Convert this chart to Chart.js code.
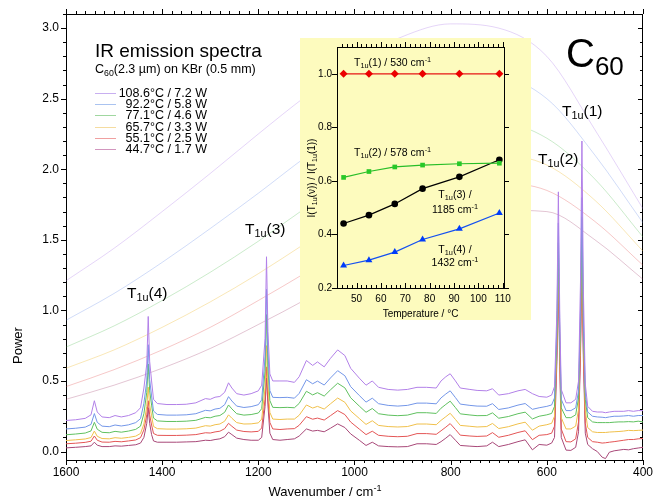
<!DOCTYPE html>
<html>
<head>
<meta charset="utf-8">
<script src="https://cdn.jsdelivr.net/npm/chart.js@4.4.1/dist/chart.umd.min.js"></script>
<style>
html,body{margin:0;padding:0;background:#fff;}
#wrap{position:relative;width:654px;height:504px;overflow:hidden;font-family:"Liberation Sans",Arial,Helvetica,sans-serif;color:#000;}
#wrap canvas{position:absolute;left:0;top:0;}
#inset{position:absolute;left:300px;top:38px;width:231px;height:282px;background:rgb(253,251,190);}
.t{position:absolute;white-space:nowrap;line-height:1;}
.sb{font-size:70%;position:relative;top:0.32em;}
.sp{font-size:70%;position:relative;top:-0.5em;}
</style>
</head>
<body>
<div id="wrap">
  <canvas id="main" width="654" height="504" style="width:654px;height:504px"></canvas>
  <div id="inset"><canvas id="insetChart" width="231" height="282" style="width:231px;height:282px"></canvas></div>

  <div class="t" style="left:95px;top:41px;font-size:19px">IR emission spectra</div>
  <div class="t" style="left:95px;top:63px;font-size:12.5px">C<span class="sb">60</span>(2.3 µm) on KBr (0.5 mm)</div>
  <div id="legend"></div>

  <div class="t" style="left:566px;top:33px;font-size:40px">C<span style="font-size:26px;position:relative;top:8px">60</span></div>
  <div class="t" style="left:562px;top:103px;font-size:15.5px">T<span class="sb">1u</span>(1)</div>
  <div class="t" style="left:538px;top:151px;font-size:15.5px">T<span class="sb">1u</span>(2)</div>
  <div class="t" style="left:245px;top:221px;font-size:15.5px">T<span class="sb">1u</span>(3)</div>
  <div class="t" style="left:127px;top:285px;font-size:15.5px">T<span class="sb">1u</span>(4)</div>

  <div class="t" style="left:11px;top:326px;width:13px;height:38px;font-size:13px;writing-mode:vertical-rl;transform:rotate(180deg)">Power</div>
  <div class="t" style="left:325px;top:492px;font-size:13px;transform:translate(-50%,-50%)">Wavenumber / cm<span class="sp">-1</span></div>

  <div class="t" style="left:354px;top:57px;font-size:10.5px">T<span class="sb">1u</span>(1) / 530 cm<span class="sp">-1</span></div>
  <div class="t" style="left:354px;top:147px;font-size:10.5px">T<span class="sb">1u</span>(2) / 578 cm<span class="sp">-1</span></div>
  <div class="t" style="left:455px;top:189px;font-size:10.5px;transform:translateX(-50%)">T<span class="sb">1u</span>(3) /</div>
  <div class="t" style="left:455px;top:204px;font-size:10.5px;transform:translateX(-50%)">1185 cm<span class="sp">-1</span></div>
  <div class="t" style="left:455px;top:244px;font-size:10.5px;transform:translateX(-50%)">T<span class="sb">1u</span>(4) /</div>
  <div class="t" style="left:455px;top:257px;font-size:10.5px;transform:translateX(-50%)">1432 cm<span class="sp">-1</span></div>
  <div class="t" style="left:312px;top:178px;font-size:10px;transform:translate(-50%,-50%) rotate(-90deg)">I(T<span class="sb">1u</span>(ν)) / I(T<span class="sb">1u</span>(1))</div>
</div>

<script>
// ---------------- data: main spectra ----------------
const wavenumbers = [1600,1580,1560,1548,1541,1535,1525,1510,1498,1485,1470,1455,1445,1438,1432,1429,1426,1422,1418,1410,1390,1370,1350,1330,1310,1300,1290,1280,1270,1262,1255,1245,1230,1215,1200,1193,1186,1183,1180,1176,1170,1155,1140,1125,1115,1100,1087,1077,1063,1050,1035,1020,1008,990,976,963,950,930,910,890,870,850,830,820,810,801,790,780,760,745,725,713,700,680,660,645,630,616,600,590,584,579,576,573,570,560,550,540,534,530,527,524,520,515,505,495,485,478,470,460,450,440,430,420,410,400];

const spec108 = [.220,.225,.235,.260,.360,.280,.245,.240,.255,.245, .255,.275,.310,.450,.620,.957,.640,.500,.370,.340, .333,.333,.335,.345,.375,.370,.385,.390,.420,.487, .450,.410,.400,.410,.430,.470,.800,1.380,.850,.550, .500,.500,.500,.490,.530,.645,.610,.635,.600,.660, .720,.680,.590,.520,.470,.500,.455,.440,.435,.440, .455,.455,.450,.500,.530,.551,.500,.450,.440,.433, .430,.445,.400,.410,.430,.440,.410,.390,.385,.400, .460,1.000,1.840,.950,.440,.345,.345,.370,.500,1.200, 2.200,1.150,.480,.320,.285,.280,.280,.275,.280,.285, .285,.285,.290,.285,.290,.290];
const spec92 = [.160,.165,.173,.192,.269,.207,.180,.176,.188,.181, .189,.205,.233,.342,.500,.757,.510,.394,.287,.263, .258,.258,.260,.268,.292,.288,.301,.306,.332,.389, .358,.322,.312,.318,.332,.366,.670,1.150,.710,.432, .384,.382,.384,.378,.412,.509,.480,.499,.471,.521, .573,.537,.460,.397,.350,.378,.339,.327,.322,.327, .343,.343,.338,.380,.408,.430,.382,.336,.327,.322, .321,.339,.298,.309,.329,.340,.299,.310,.320,.330, .380,.900,1.620,.850,.370,.290,.290,.310,.430,1.000, 1.800,.950,.420,.280,.250,.245,.243,.240,.245,.250, .250,.252,.255,.250,.255,.255];
const spec77 = [.119,.124,.131,.146,.207,.158,.136,.133,.143,.137, .145,.157,.180,.268,.420,.620,.430,.329,.237,.217, .213,.213,.215,.221,.242,.239,.250,.255,.278,.330, .302,.268,.258,.262,.273,.304,.570,.970,.600,.361, .313,.311,.313,.310,.341,.427,.401,.417,.393,.437, .484,.451,.381,.322,.278,.305,.268,.258,.254,.258, .275,.275,.270,.307,.334,.357,.311,.267,.259,.254, .255,.274,.236,.248,.268,.279,.231,.250,.260,.270, .320,.820,1.480,.780,.310,.240,.240,.260,.380,.920, 1.660,.880,.370,.240,.210,.205,.205,.205,.205,.208, .210,.210,.212,.210,.215,.210];
const spec66 = [.078,.083,.089,.099,.145,.108,.092,.090,.098,.094, .100,.109,.128,.195,.320,.456,.330,.253,.178,.162, .159,.159,.161,.166,.183,.180,.190,.195,.215,.260, .236,.205,.195,.196,.203,.230,.450,.750,.470,.277, .230,.227,.230,.230,.257,.330,.308,.320,.301,.338, .379,.349,.288,.234,.192,.218,.185,.177,.174,.177, .195,.195,.190,.221,.247,.271,.227,.185,.179,.174, .177,.199,.163,.176,.196,.208,.151,.180,.190,.200, .250,.770,1.380,.730,.240,.160,.160,.180,.300,.850, 1.550,.820,.290,.170,.140,.135,.135,.135,.138,.140, .142,.145,.150,.148,.150,.152];
const spec55 = [.055,.059,.065,.073,.110,.080,.067,.066,.072,.069, .075,.082,.098,.153,.260,.360,.260,.188,.128,.115, .114,.114,.116,.120,.133,.131,.139,.144,.162,.200, .179,.152,.142,.139,.143,.167,.370,.600,.380,.206, .160,.156,.160,.162,.186,.247,.229,.237,.223,.254, .290,.262,.209,.159,.120,.144,.115,.108,.105,.108, .127,.127,.122,.147,.173,.198,.156,.116,.110,.107, .110,.134,.101,.115,.135,.147,.084,.115,.120,.130, .180,.700,1.260,.660,.160,.070,.068,.090,.210,.750, 1.400,.720,.200,.100,.070,.066,.060,.062,.066,.070, .075,.080,.085,.085,.090,.092];
const spec45 = [.026,.030,.035,.040,.066,.045,.035,.035,.040,.038, .043,.048,.060,.100,.200,.310,.200,.120,.075,.066, .066,.066,.068,.070,.080,.078,.085,.090,.105,.137, .120,.095,.085,.080,.080,.100,.320,.520,.330,.130, .085,.080,.085,.090,.110,.160,.145,.150,.140,.165, .196,.170,.125,.080,.043,.066,.040,.035,.033,.035, .055,.055,.050,.070,.095,.120,.080,.043,.038,.035, .040,.066,.035,.050,.070,.083,.012,.050,.045,.060, .100,.640,1.180,.600,.100,.010,.008,.030,.140,.680, 1.300,.660,.130,.050,.020,.000,-.040,-.050,-.005,.005, .010,.015,.012,.020,.025,.030];

// ---------------- data: blackbody reference curves ----------------
const bbWavenumbers = [1600,1500,1400,1300,1200,1100,1000,900,800,700,600,500,400];
const bb108 = [1.21,1.44,1.70,1.97,2.25,2.52,2.76,2.94,3.03,3.00,2.80,2.28,1.72];
const bb92  = [0.93,1.12,1.34,1.58,1.83,2.09,2.32,2.51,2.63,2.65,2.50,2.10,1.62];
const bb77  = [0.74,0.89,1.07,1.27,1.49,1.73,1.95,2.14,2.28,2.33,2.22,1.93,1.52];
const bb66  = [0.59,0.72,0.88,1.06,1.26,1.48,1.70,1.89,2.03,2.10,2.03,1.78,1.42];
const bb55  = [0.46,0.58,0.72,0.88,1.07,1.27,1.48,1.66,1.82,1.90,1.85,1.63,1.32];
const bb45  = [0.37,0.47,0.59,0.73,0.90,1.08,1.28,1.46,1.61,1.71,1.70,1.50,1.22];

const seriesLabels = ['108.6°C / 7.2 W','92.2°C / 5.8 W','77.1°C / 4.6 W','65.7°C / 3.3 W','55.1°C / 2.5 W','44.7°C / 1.7 W'];
const xTickValues = [1600,1400,1200,1000,800,600,400];
const yTickValues = [0.0,0.5,1.0,1.5,2.0,2.5,3.0];

// ---------------- data: inset ----------------
const insetTemps = [44.7,55.1,65.7,77.1,92.2,108.6];
const ratioT1 = [1.0,1.0,1.0,1.0,1.0,1.0];
const ratioT2 = [0.613,0.635,0.652,0.659,0.664,0.666];
const ratioT3 = [0.441,0.472,0.514,0.571,0.615,0.679];
const ratioT4 = [0.284,0.304,0.334,0.381,0.421,0.480];
const insetXTicks = [50,60,70,80,90,100,110];
const insetYTicks = [0.2,0.4,0.6,0.8,1.0];

// ---------------- styles ----------------
const lineColors = ['rgb(178,128,232)','rgb(115,150,232)','rgb(95,192,95)','rgb(240,192,75)','rgb(228,85,85)','rgb(168,72,120)'];
const bbColors   = ['rgba(165,110,230,0.42)','rgba(95,135,230,0.42)','rgba(75,185,75,0.42)','rgba(238,185,50,0.5)','rgba(225,65,65,0.42)','rgba(160,55,105,0.42)'];
const legendColors = ['rgb(200,175,240)','rgb(170,195,240)','rgb(160,215,160)','rgb(245,220,160)','rgb(240,160,160)','rgb(210,150,190)'];

Chart.defaults.font.family = '"Liberation Sans", Arial, sans-serif';
Chart.defaults.color = '#000';

// legend (HTML text)
const lg = document.getElementById('legend');
seriesLabels.forEach((lab, i) => {
  const cy = 92.7 + i * 11.3;
  const ln = document.createElement('div');
  ln.style.cssText = `position:absolute;left:95px;top:${Math.round(cy)}px;width:21px;height:0;border-top:1px solid ${legendColors[i]};`;
  lg.appendChild(ln);
  const tx = document.createElement('div');
  tx.className = 't';
  tx.style.cssText = `right:${654-207}px;top:${(cy-6.1).toFixed(1)}px;font-size:12.5px;`;
  tx.textContent = lab;
  lg.appendChild(tx);
});

function range(a, b, step, skip) {
  const out = [];
  for (let v = a; v <= b + 1e-9; v += step) {
    const r = Math.round(v * 1000) / 1000;
    if (!skip || !skip(r)) out.push(r);
  }
  return out;
}

const tickMarks = {
  id: 'tickMarks',
  afterDraw(chart, args, opts) {
    const ctx = chart.ctx, a = chart.chartArea;
    ctx.save();
    ctx.strokeStyle = '#000';
    ctx.lineWidth = 1;
    for (const s of opts.sets) {
      const sc = chart.scales[s.scale];
      const groups = [[s.major || [], opts.majorLen], [s.minor || [], opts.minorLen]];
      for (const [vals, len] of groups) {
        for (const v of vals) {
          let p = sc.getPixelForValue(v);
          if (s.side === 'bottom' || s.side === 'top') {
            if (p < a.left - 0.5 || p > a.right + 0.5) continue;
            p = Math.round(p) + 0.5;
            const y0 = s.side === 'bottom' ? a.bottom : a.top;
            const sgn = (s.side === 'bottom' ? 1 : -1) * s.dir;
            ctx.beginPath(); ctx.moveTo(p, y0); ctx.lineTo(p, y0 + sgn * len); ctx.stroke();
          } else {
            if (p < a.top - 0.5 || p > a.bottom + 0.5) continue;
            p = Math.round(p) + 0.5;
            const x0 = s.side === 'left' ? a.left : a.right;
            const sgn = (s.side === 'left' ? -1 : 1) * s.dir;
            ctx.beginPath(); ctx.moveTo(x0, p); ctx.lineTo(x0 + sgn * len, p); ctx.stroke();
          }
        }
      }
    }
    ctx.restore();
  }
};

function fixed(size, dim) {
  return (scale) => { scale[dim] = size; };
}
function setTicks(values) {
  return (scale) => { scale.ticks = values.map(v => ({ value: v })); };
}

// ---------------- main chart ----------------
const spectra = [spec108, spec92, spec77, spec66, spec55, spec45];
const blackbody = [bb108, bb92, bb77, bb66, bb55, bb45];
const datasets = [];
spectra.forEach((arr, i) => datasets.push({
  label: seriesLabels[i],
  data: wavenumbers.map((w, j) => ({ x: w, y: arr[j] })),
  borderColor: lineColors[i], borderWidth: 1, pointRadius: 0, tension: 0, fill: false
}));
blackbody.forEach((arr, i) => datasets.push({
  label: 'bb ' + seriesLabels[i],
  data: bbWavenumbers.map((w, j) => ({ x: w, y: arr[j] })),
  borderColor: bbColors[i], borderWidth: 0.7, pointRadius: 0, cubicInterpolationMode: 'monotone', fill: false
}));

const xMinor = range(400, 1600, 20, v => v % 200 === 0);
const yMinor = range(0, 3.1, 0.1, v => Math.abs(v * 2 - Math.round(v * 2)) < 1e-6);

new Chart(document.getElementById('main'), {
  type: 'line',
  data: { datasets },
  options: {
    responsive: false, animation: false, devicePixelRatio: 1,
    layout: { padding: 0 },
    plugins: {
      legend: { display: false }, tooltip: { enabled: false },
      tickMarks: {
        majorLen: 5, minorLen: 3,
        sets: [
          { scale: 'x', side: 'bottom', dir: 1, major: xTickValues, minor: xMinor },
          { scale: 'x2', side: 'top', dir: 1, major: xTickValues, minor: xMinor },
          { scale: 'y', side: 'left', dir: 1, major: yTickValues, minor: yMinor },
          { scale: 'y2', side: 'right', dir: -1, major: yTickValues, minor: yMinor }
        ]
      }
    },
    scales: {
      x: {
        type: 'linear', position: 'bottom', reverse: true, min: 400, max: 1600,
        afterBuildTicks: setTicks(xTickValues), afterFit: fixed(44, 'height'),
        grid: { display: false, drawTicks: true, tickLength: 4 },
        border: { display: true, color: '#000', width: 1 },
        ticks: { font: { size: 12 }, padding: 1, maxRotation: 0, autoSkip: false, callback: v => String(v) }
      },
      x2: {
        type: 'linear', position: 'top', reverse: true, min: 400, max: 1600,
        afterFit: fixed(14, 'height'),
        grid: { display: false, drawTicks: false },
        border: { display: true, color: '#000', width: 1 },
        ticks: { display: false }
      },
      y: {
        type: 'linear', position: 'left', min: -0.06, max: 3.1,
        afterBuildTicks: setTicks(yTickValues), afterFit: fixed(66, 'width'),
        grid: { display: false, drawTicks: true, tickLength: 5 },
        border: { display: true, color: '#000', width: 1 },
        ticks: { font: { size: 12 }, padding: 2, autoSkip: false, callback: v => v.toFixed(1) }
      },
      y2: {
        type: 'linear', position: 'right', min: -0.06, max: 3.1,
        afterFit: fixed(11, 'width'),
        grid: { display: false, drawTicks: false },
        border: { display: true, color: '#000', width: 1 },
        ticks: { display: false }
      }
    }
  },
  plugins: [tickMarks]
});

// ---------------- inset chart ----------------
const insetMinorX = range(44, 110, 2, v => v % 10 === 0);
new Chart(document.getElementById('insetChart'), {
  type: 'line',
  data: {
    datasets: [
      { label: 'T1u(1)', data: insetTemps.map((t, i) => ({ x: t, y: ratioT1[i] })),
        borderColor: 'rgb(230,20,20)', backgroundColor: 'rgb(235,0,0)', borderWidth: 1.2,
        pointStyle: 'rectRot', pointRadius: 4, pointBorderWidth: 0, tension: 0 },
      { label: 'T1u(2)', data: insetTemps.map((t, i) => ({ x: t, y: ratioT2[i] })),
        borderColor: 'rgb(40,190,40)', backgroundColor: 'rgb(40,200,40)', borderWidth: 1.2,
        pointStyle: 'rect', pointRadius: 3.3, pointBorderWidth: 0, tension: 0 },
      { label: 'T1u(3)', data: insetTemps.map((t, i) => ({ x: t, y: ratioT3[i] })),
        borderColor: 'rgb(0,0,0)', backgroundColor: 'rgb(0,0,0)', borderWidth: 1.2,
        pointStyle: 'circle', pointRadius: 3.3, pointBorderWidth: 0, tension: 0 },
      { label: 'T1u(4)', data: insetTemps.map((t, i) => ({ x: t, y: ratioT4[i] })),
        borderColor: 'rgb(20,80,240)', backgroundColor: 'rgb(0,60,250)', borderWidth: 1.2,
        pointStyle: 'triangle', pointRadius: 4, pointBorderWidth: 0, tension: 0 }
    ]
  },
  options: {
    responsive: false, animation: false, devicePixelRatio: 1,
    layout: { padding: 0 },
    plugins: {
      legend: { display: false }, tooltip: { enabled: false },
      tickMarks: {
        majorLen: 5, minorLen: 3,
        sets: [
          { scale: 'x', side: 'bottom', dir: -1, major: insetXTicks, minor: insetMinorX },
          { scale: 'x2', side: 'top', dir: 1, major: insetXTicks, minor: insetMinorX },
          { scale: 'y', side: 'left', dir: 1, major: insetYTicks, minor: [] },
          { scale: 'y2', side: 'right', dir: 1, major: insetYTicks, minor: [] }
        ]
      }
    },
    scales: {
      x: {
        type: 'linear', position: 'bottom', min: 42, max: 110.5,
        afterBuildTicks: setTicks(insetXTicks), afterFit: fixed(32, 'height'),
        grid: { display: false, drawTicks: true, tickLength: 3 },
        border: { display: true, color: '#000', width: 1 },
        ticks: { font: { size: 10 }, padding: 2, maxRotation: 0, autoSkip: false, callback: v => String(v) },
        title: { display: true, text: 'Temperature / °C', font: { size: 10 }, padding: { top: 0, bottom: 0 } }
      },
      x2: {
        type: 'linear', position: 'top', min: 42, max: 110.5,
        afterFit: fixed(9, 'height'),
        grid: { display: false, drawTicks: false },
        border: { display: true, color: '#000', width: 1 },
        ticks: { display: false }
      },
      y: {
        type: 'linear', position: 'left', min: 0.2, max: 1.1,
        afterBuildTicks: setTicks(insetYTicks), afterFit: fixed(37, 'width'),
        grid: { display: false, drawTicks: true, tickLength: 3 },
        border: { display: true, color: '#000', width: 1 },
        ticks: { font: { size: 10 }, padding: 2, autoSkip: false, callback: v => v.toFixed(1) }
      },
      y2: {
        type: 'linear', position: 'right', min: 0.2, max: 1.1,
        afterFit: fixed(27, 'width'),
        grid: { display: false, drawTicks: false },
        border: { display: true, color: '#000', width: 1 },
        ticks: { display: false }
      }
    }
  },
  plugins: [tickMarks]
});
</script>
</body>
</html>
